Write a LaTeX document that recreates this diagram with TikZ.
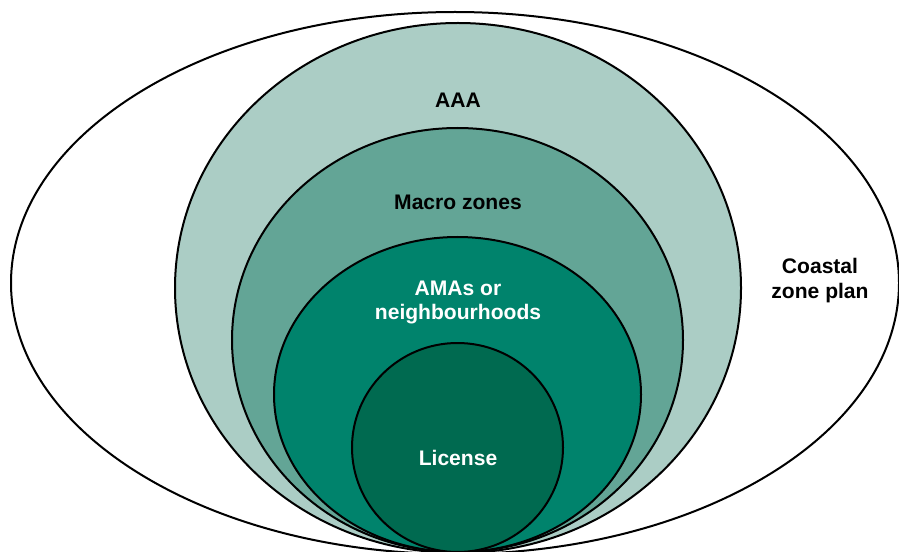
\documentclass[tikz,border=0pt]{standalone}
\usepackage{fontspec}
\setmainfont{Liberation Sans}

\definecolor{zoneAAA}{RGB}{171,205,197}
\definecolor{zoneMacro}{RGB}{99,165,150}
\definecolor{zoneAMA}{RGB}{0,131,108}
\definecolor{zoneLicense}{RGB}{0,106,80}

% centre x / centre y / x radius / y radius / fill
\def\setofzones{455/283/444/271/white,
  458/288/283/265/zoneAAA,
  457.5/340/225.5/212/zoneMacro,
  457.5/394.5/183.5/157.5/zoneAMA,
  457.5/447.5/105.5/104.5/zoneLicense}

\begin{document}
\begin{tikzpicture}[x=0.75pt,y=-0.75pt,line width=1.5pt,%
    every node/.style={align=center,inner sep=0pt,%
      font=\bfseries\fontsize{15.8}{18.5}\selectfont}]

    \useasboundingbox (0,0) rectangle (899,552);
    \clip (0,0) rectangle (899,552);

    %% DRAW ZONES
    \foreach \cx/\cy/\rx/\ry/\zcolor in \setofzones {%
      \draw[fill=\zcolor] (\cx,\cy) ellipse [x radius=\rx, y radius=\ry];%
    }%

    %% DRAW ZONE LABELS
    \node (aaaLabel) at (458,100) {AAA};
    \node (macroLabel) at (458,202.5) {Macro zones};
    \node[text=white] (amaLabel) at (458,302.5) {AMAs or\\neighbourhoods};
    \node[text=white] (licLabel) at (458,458) {License};
    \node (planLabel) at (820,280.5) {Coastal\\zone plan};

\end{tikzpicture}
\end{document}
